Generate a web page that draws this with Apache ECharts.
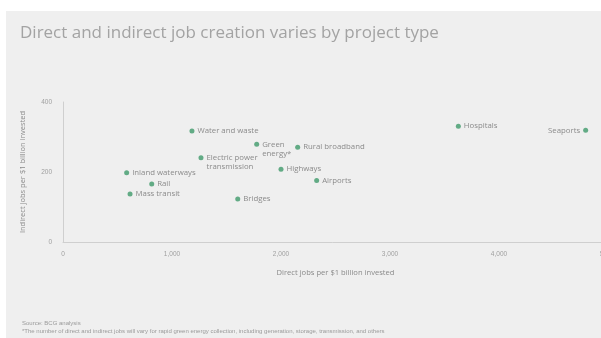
<!DOCTYPE html>
<html><head><meta charset="utf-8">
<script src="https://cdn.jsdelivr.net/npm/echarts@6/dist/echarts.min.js"></script>
<style>html,body{margin:0;padding:0;background:#fff}#c{width:601px;height:338px}</style>
</head><body><div id="c"></div>
<script>
const names = ['Water and waste','Green\nenergy*','Rural broadband','Electric power\ntransmission','Inland waterways','Rail','Mass transit','Highways','Bridges','Airports','Hospitals','Seaports'];
const directJobs = [1183,1777,2153,1266,584,814,615,2000,1603,2327,3627,4795];
const indirectJobs = [317,279,271,241,198,166,137,208,123,176,331,319];
const xTicks = [0,1000,2000,3000,4000,5000];
const yTicks = [0,200,400];

const data = names.map((n,i)=>{
  const d = {name:n, value:[directJobs[i], indirectJobs[i]]};
  if (n.indexOf('\n')>=0) d.label = {position:'right', verticalAlign:'top', offset:[0,-4]};
  if (n==='Seaports') d.label = {position:'left'};
  return d;
});

const chart = echarts.init(document.getElementById('c'));
chart.setOption({
  backgroundColor:'#ffffff',
  animation:false,
  graphic:[{type:'rect', z:-10, shape:{x:6,y:11,width:595,height:327}, style:{fill:'#efefef'}, silent:true},
    {type:'text', left:22, top:320, style:{text:'Source: BCG analysis', fill:'#9a9a9a', font:'6px sans-serif'}},
    {type:'text', left:22, top:328, style:{text:'*The number of direct and indirect jobs will vary for rapid green energy collection, including generation, storage, transmission, and others', fill:'#9a9a9a', font:'6px sans-serif'}}
  ],
  title:{text:'Direct and indirect job creation varies by project type', left:15, top:20,
    textStyle:{fontFamily:'Open Sans', fontWeight:'normal', fontSize:17, color:'#a3a3a3'}},
  grid:{left:63, top:102, width:545, height:140, outerBoundsMode:'none', containLabel:false},
  xAxis:{type:'value', min:0, max:5000, interval:1000,
    name:'Direct jobs per $1 billion invested', nameLocation:'middle', nameGap:27,
    nameTextStyle:{fontSize:7.6, color:'#8a8a8a', fontFamily:'Open Sans'},
    axisLine:{show:true, lineStyle:{color:'#cfcfcf'}}, axisTick:{show:false},
    splitLine:{show:false},
    axisLabel:{fontSize:6.5, color:'#a0a0a0', margin:9, formatter:v=>v.toLocaleString('en-US')}},
  yAxis:{type:'value', min:0, max:400, interval:200,
    name:'Indirect jobs per $1 billion invested', nameLocation:'middle', nameGap:36,
    nameTextStyle:{fontSize:7.5, color:'#8a8a8a', fontFamily:'Open Sans'},
    axisLine:{show:true, lineStyle:{color:'#cfcfcf'}}, axisTick:{show:false},
    splitLine:{show:false},
    axisLabel:{fontSize:6.5, color:'#a0a0a0', margin:11}},
  series:[{type:'scatter', data:data, symbolSize:5,
    itemStyle:{color:'#3f9a6a'},
    label:{show:true, position:'right', distance:3, formatter:p=>p.name,
      fontSize:7.8, color:'#707070', fontFamily:'Open Sans', lineHeight:9}}]
});
</script></body></html>
